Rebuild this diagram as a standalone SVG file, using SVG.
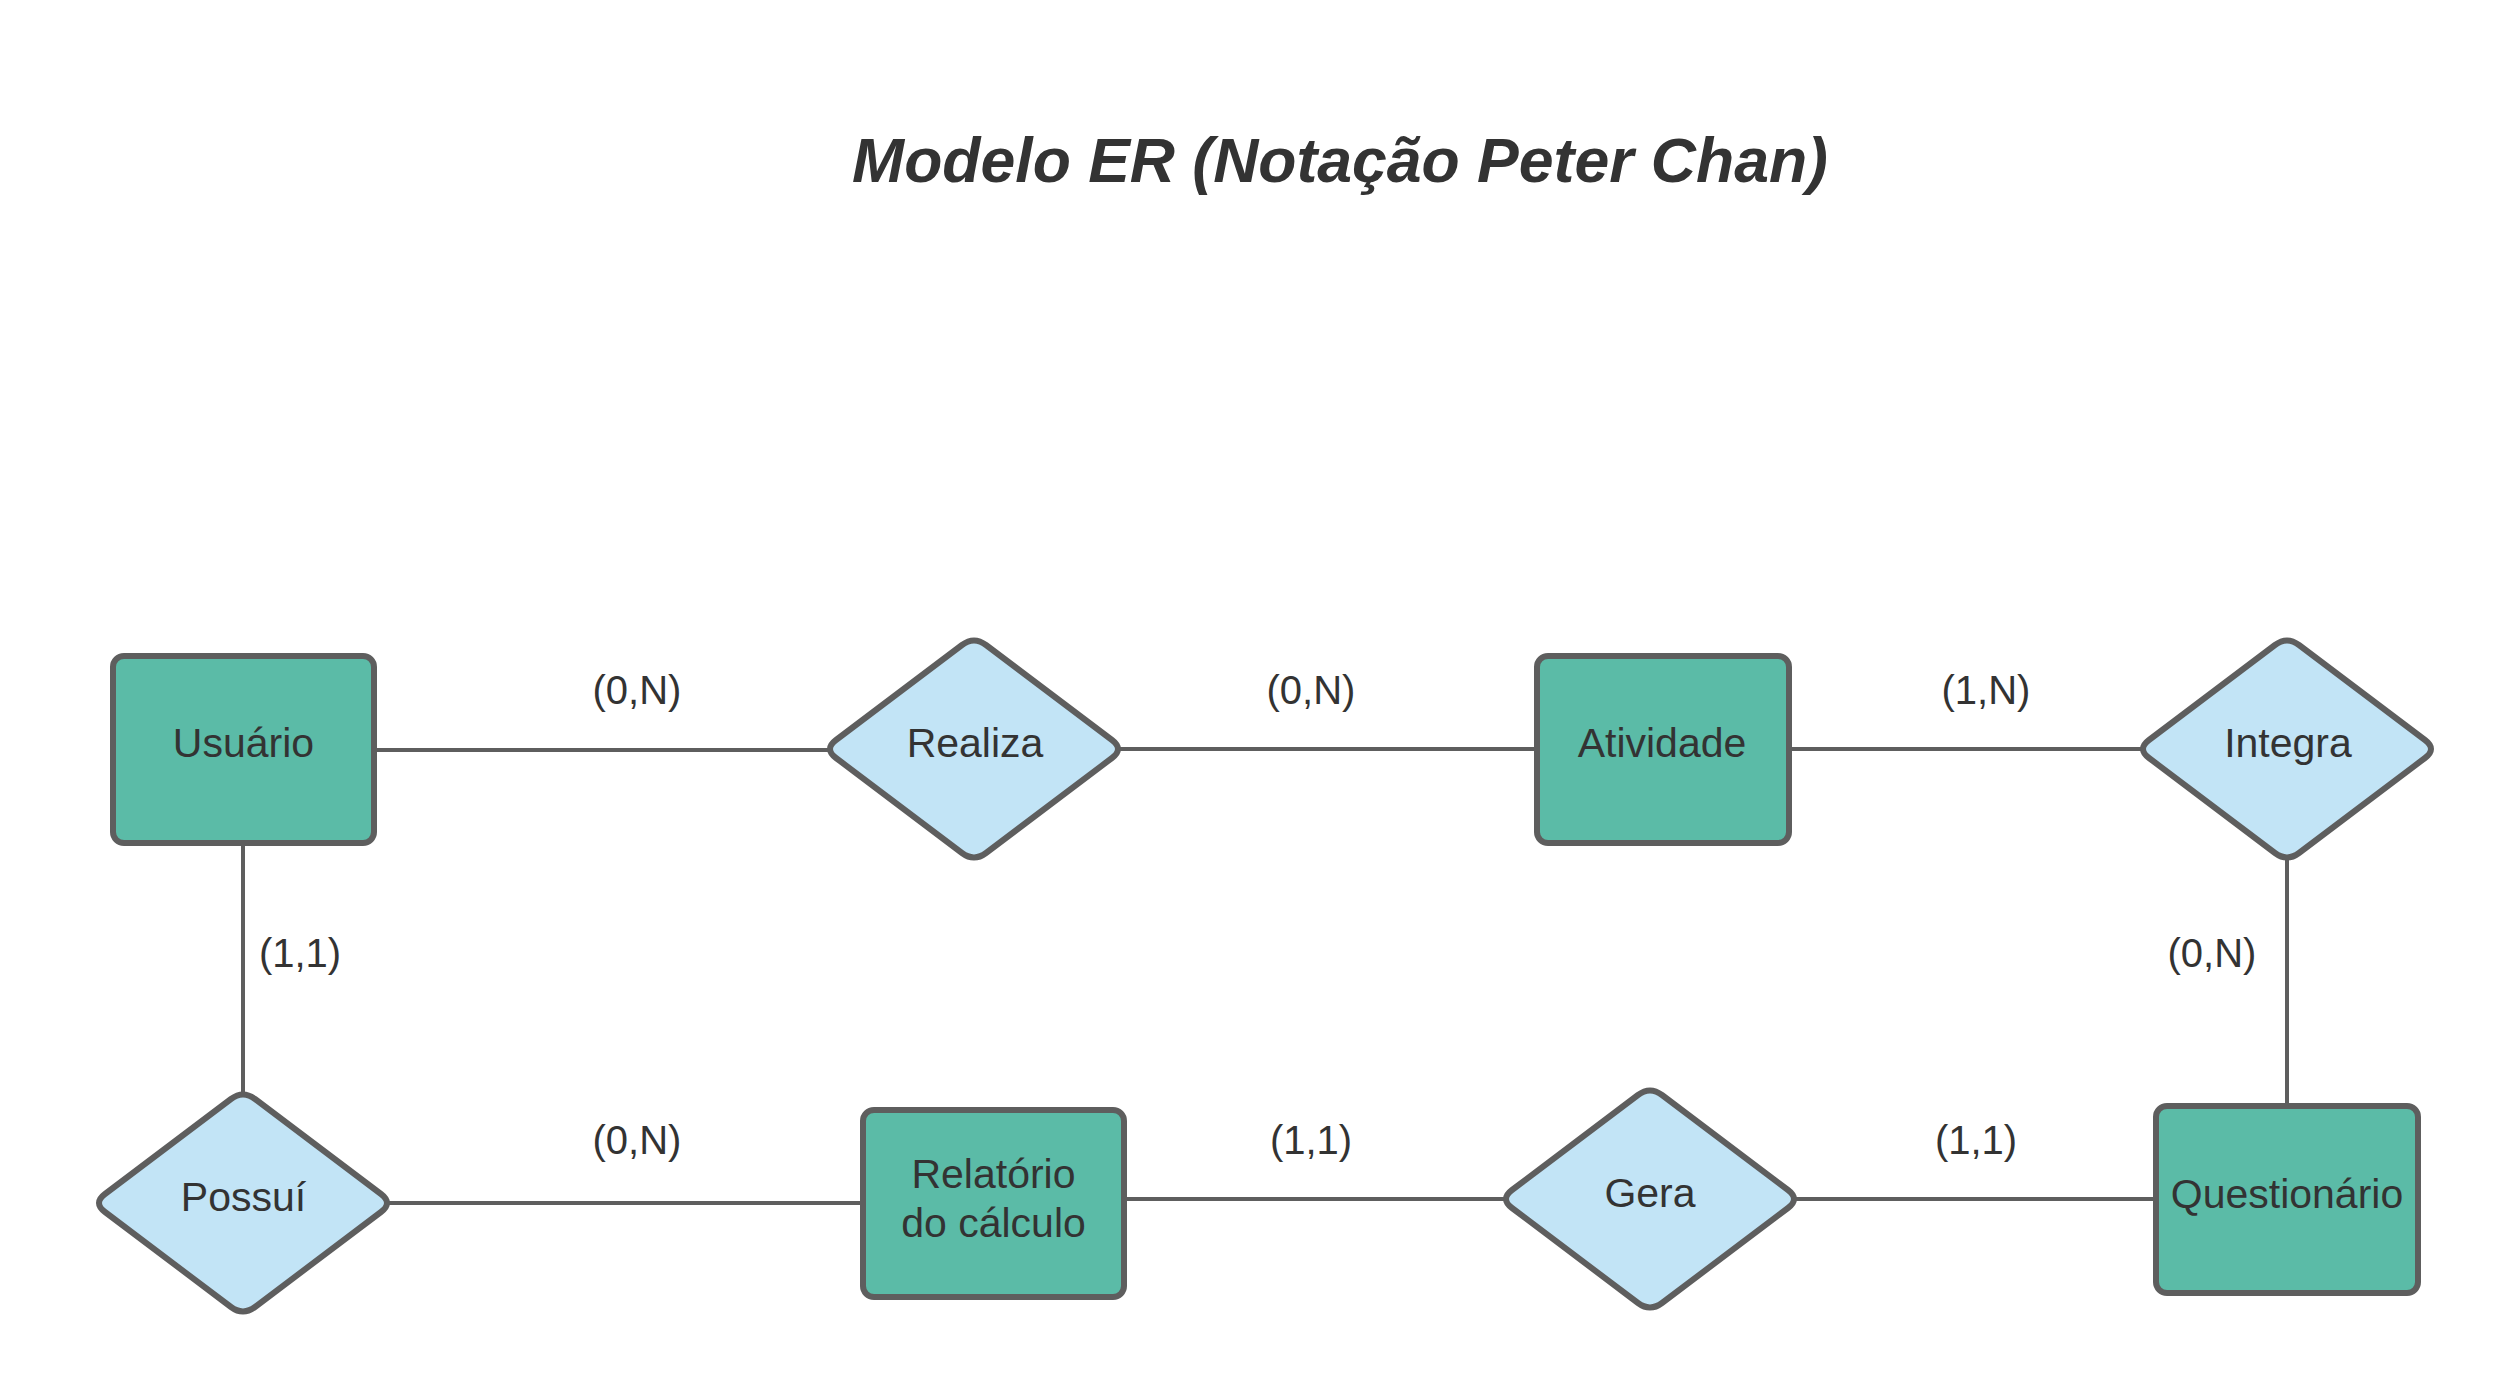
<svg xmlns="http://www.w3.org/2000/svg" xmlns:xlink="http://www.w3.org/1999/xlink" width="2513" height="1391" viewBox="0 0 2513 1391">
<style>
.ent{fill:#5bbba7;stroke:#5e5e5e;stroke-width:6}
.rel{fill:#c2e4f6;stroke:#5e5e5e;stroke-width:6;stroke-linejoin:round}
.lbl{font-family:"Liberation Sans",Arial,sans-serif;font-size:41px;fill:#333333;text-anchor:middle}
.card{font-family:"Liberation Sans",Arial,sans-serif;font-size:40px;fill:#333333;text-anchor:middle}
.title{font-family:"Liberation Sans",Arial,sans-serif;font-size:62.5px;font-weight:bold;font-style:italic;fill:#333333;text-anchor:middle}
.conn line{stroke:#5e5e5e;stroke-width:4}
</style>
<defs>
<path id="dia" d="M-138,-9 L-12,-104 Q0,-113 12,-104 L138,-9 Q150,0 138,9 L12,104 Q0,113 -12,104 L-138,9 Q-150,0 -138,-9 Z"/>
</defs>
<rect width="2513" height="1391" fill="#ffffff"/>
<text class="title" x="1340" y="182">Modelo ER (Notação Peter Chan)</text>
<g id="connectors" class="conn">
<line x1="377" y1="750" x2="830" y2="750"/>
<line x1="1118" y1="749" x2="1535" y2="749"/>
<line x1="1790" y1="749" x2="2143" y2="749"/>
<line x1="2287" y1="857" x2="2287" y2="1103"/>
<line x1="243" y1="846" x2="243" y2="1095"/>
<line x1="387" y1="1203" x2="860" y2="1203"/>
<line x1="1127" y1="1199" x2="1506" y2="1199"/>
<line x1="1794" y1="1199" x2="2153" y2="1199"/>
</g>
<g id="cardinalities">
<text class="card" x="637" y="704">(0,N)</text>
<text class="card" x="1311" y="704">(0,N)</text>
<text class="card" x="1986" y="704">(1,N)</text>
<text class="card" x="300" y="967">(1,1)</text>
<text class="card" x="2212" y="967">(0,N)</text>
<text class="card" x="637" y="1154">(0,N)</text>
<text class="card" x="1311" y="1154">(1,1)</text>
<text class="card" x="1976" y="1154">(1,1)</text>
</g>
<g id="usuario">
<rect class="ent" x="113" y="656" width="261" height="187" rx="11"/>
<text class="lbl" x="243.5" y="757">Usuário</text>
</g>
<g id="realiza">
<use href="#dia" xlink:href="#dia" class="rel" x="974" y="749"/>
<text class="lbl" x="975" y="757">Realiza</text>
</g>
<g id="atividade">
<rect class="ent" x="1537" y="656" width="252" height="187" rx="11"/>
<text class="lbl" x="1662" y="757">Atividade</text>
</g>
<g id="integra">
<use href="#dia" xlink:href="#dia" class="rel" x="2287" y="749"/>
<text class="lbl" x="2288" y="757">Integra</text>
</g>
<g id="possui">
<use href="#dia" xlink:href="#dia" class="rel" x="243" y="1203"/>
<text class="lbl" x="243.5" y="1211">Possuí</text>
</g>
<g id="relatorio">
<rect class="ent" x="863" y="1110" width="261" height="187" rx="11"/>
<text class="lbl" x="993.5" y="1188">Relatório</text>
<text class="lbl" x="993.5" y="1237">do cálculo</text>
</g>
<g id="gera">
<use href="#dia" xlink:href="#dia" class="rel" x="1650" y="1199"/>
<text class="lbl" x="1650" y="1207">Gera</text>
</g>
<g id="questionario">
<rect class="ent" x="2156" y="1106" width="262" height="187" rx="11"/>
<text class="lbl" x="2287" y="1208">Questionário</text>
</g>
</svg>
